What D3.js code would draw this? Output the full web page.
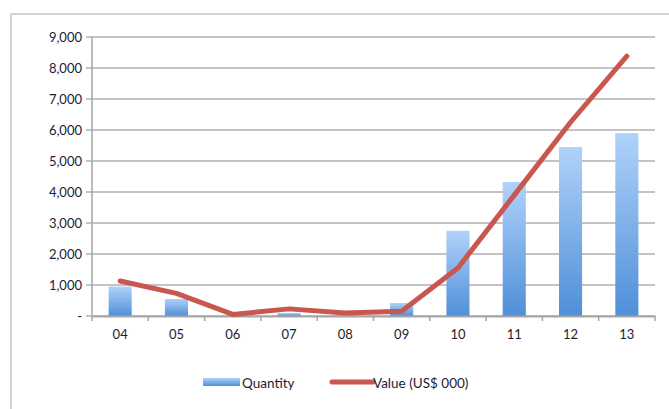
<!DOCTYPE html>
<html>
<head>
<meta charset="utf-8">
<script src="https://cdn.jsdelivr.net/npm/d3@7"></script>
<style>
  body { margin: 0; background: #fff; }
  svg { display: block; font-family: Lato, "Open Sans", sans-serif; }
</style>
</head>
<body>
<svg id="chart" width="669" height="409"></svg>
<script>
const years = ['04', '05', '06', '07', '08', '09', '10', '11', '12', '13'];
const quantity = [950, 550, 20, 100, 30, 420, 2750, 4320, 5450, 5900];
const valueUsd = [1130, 730, 50, 230, 100, 150, 1550, 3900, 6250, 8380];
const yTicks = [0, 1000, 2000, 3000, 4000, 5000, 6000, 7000, 8000, 9000];

const svg = d3.select('#chart');
const margin = { top: 37, left: 92, right: 14, bottom: 93 };
const width = 669 - margin.left - margin.right;
const height = 409 - margin.top - margin.bottom;
const textColor = '#1c1c30';

// outer frame
svg.append('rect')
  .attr('x', 11).attr('y', 14).attr('width', 700).attr('height', 420)
  .attr('fill', 'none').attr('stroke', '#d4d4d4').attr('stroke-width', 2);

const defs = svg.append('defs');
const grad = defs.append('linearGradient').attr('id', 'barGrad')
  .attr('x1', 0).attr('y1', 0).attr('x2', 0).attr('y2', 1);
grad.append('stop').attr('offset', '0%').attr('stop-color', '#b0d2fa');
grad.append('stop').attr('offset', '100%').attr('stop-color', '#4f8fd8');

const g = svg.append('g').attr('transform', `translate(${margin.left},${margin.top})`);

const x = d3.scaleBand().domain(years).range([0, width]).paddingInner(0.59).paddingOuter(0.295);
const xBand = d3.scaleBand().domain(years).range([0, width]);
const y = d3.scaleLinear().domain([0, 9000]).range([height, 0]);

// gridlines
g.append('g')
  .selectAll('line')
  .data(yTicks)
  .join('line')
  .attr('x1', -6).attr('x2', width)
  .attr('y1', d => y(d)).attr('y2', d => y(d))
  .attr('stroke', '#c4c4c4').attr('stroke-width', 2);

// y axis labels
const yAxis = g.append('g')
  .call(d3.axisLeft(y).tickValues(yTicks).tickSize(0).tickPadding(10)
    .tickFormat(d => d === 0 ? '-' : d3.format(',')(d)));
yAxis.select('.domain').remove();
yAxis.selectAll('text').attr('font-size', 13).attr('fill', textColor).attr('font-family', 'Lato, sans-serif');

// y axis line
g.append('line')
  .attr('x1', 0).attr('x2', 0).attr('y1', 0).attr('y2', height + 5)
  .attr('stroke', '#a6a6a6').attr('stroke-width', 1.5);

// bars
g.append('g')
  .selectAll('rect')
  .data(years)
  .join('rect')
  .attr('x', d => x(d))
  .attr('width', x.bandwidth())
  .attr('y', (d, i) => y(quantity[i]))
  .attr('height', (d, i) => height - y(quantity[i]))
  .attr('fill', 'url(#barGrad)');

// x axis
const xAxis = g.append('g').attr('transform', `translate(0,${height})`)
  .call(d3.axisBottom(xBand).tickSize(0).tickPadding(14));
xAxis.select('.domain').attr('stroke', '#a6a6a6').attr('stroke-width', 2);
xAxis.selectAll('text').attr('font-size', 13).attr('fill', textColor).attr('font-family', 'Lato, sans-serif');
g.append('g')
  .selectAll('line')
  .data(years)
  .join('line')
  .attr('x1', (d, i) => xBand.step() * (i + 1)).attr('x2', (d, i) => xBand.step() * (i + 1))
  .attr('y1', height).attr('y2', height + 5)
  .attr('stroke', '#a6a6a6').attr('stroke-width', 1.5);

// value line
const line = d3.line()
  .x((d, i) => xBand(years[i]) + xBand.bandwidth() / 2)
  .y(d => y(d));
g.append('path')
  .datum(valueUsd)
  .attr('d', line)
  .attr('fill', 'none')
  .attr('stroke', '#c9574f')
  .attr('stroke-width', 5)
  .attr('stroke-linejoin', 'round')
  .attr('stroke-linecap', 'round');

// legend
const leg = svg.append('g').attr('font-size', 13.5).attr('fill', textColor);
leg.append('rect').attr('x', 203).attr('y', 378).attr('width', 37).attr('height', 8).attr('fill', 'url(#barGrad)');
leg.append('text').attr('x', 242).attr('y', 388).text('Quantity');
leg.append('line').attr('x1', 332).attr('x2', 373).attr('y1', 382).attr('y2', 382)
  .attr('stroke', '#c9574f').attr('stroke-width', 5).attr('stroke-linecap', 'round');
leg.append('text').attr('x', 373).attr('y', 388).text('Value (US$ 000)');
</script>
</body>
</html>
